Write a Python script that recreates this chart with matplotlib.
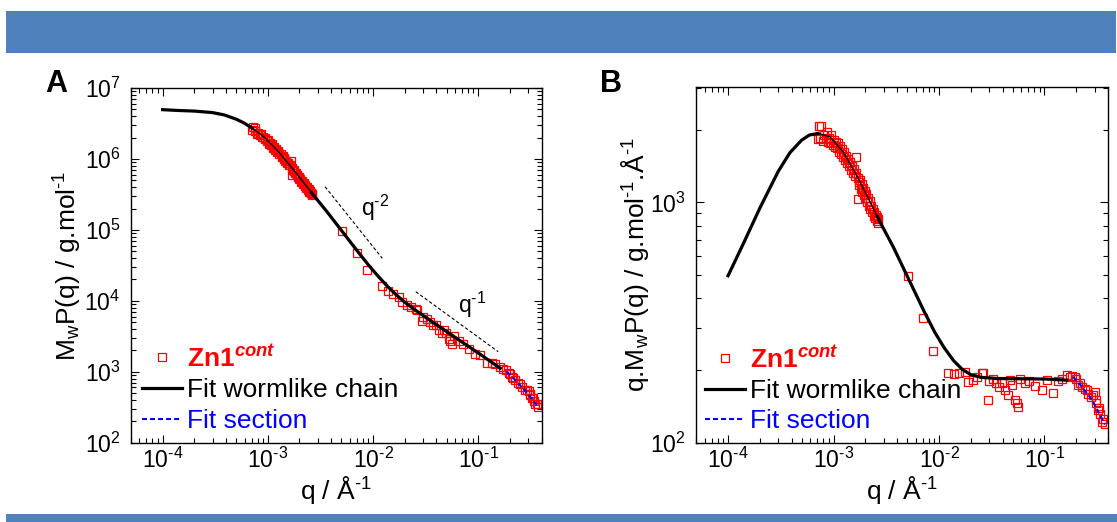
import numpy as np
import matplotlib
matplotlib.use('Agg')
import matplotlib.pyplot as plt
from matplotlib.patches import Rectangle
from matplotlib.ticker import NullFormatter, FuncFormatter

# DATA (y values are q.Mw.P(q), panel A uses Mw.P(q) = value / q)

# wormlike chain fit
fit_q = np.array([1.00e-4, 1.40e-4, 2.01e-4, 2.99e-4, 3.86e-4, 4.99e-4, 5.89e-4, 7.16e-4,
                  9.25e-4, 1.236e-3, 1.782e-3, 2.60e-3, 2.754e-3, 3.68e-3, 5.70e-3, 7.24e-3,
                  9.12e-3, 1.122e-2, 1.380e-2, 1.660e-2, 1.995e-2, 2.512e-2, 3.52e-2, 0.1047,
                  0.162])
fit_qI = np.array([495, 675, 950, 1345, 1610, 1816, 1905, 1936,
                   1875, 1622, 1219, 873, 830, 653, 437, 351,
                   288, 248, 219, 202, 192, 187, 185, 184,
                   182])

# fit section (high q)
sec_q = np.array([0.187, 0.224, 0.282, 0.331, 0.374])
sec_qI = np.array([188, 172, 151, 132, 119])

# Zn1 cont data points
pts_q = np.array([
    7.1e-4, 7.3e-4, 7.6e-4, 7.5e-4, 7.9e-4, 8.1e-4, 8.4e-4, 8.6e-4, 8.8e-4, 9.0e-4,
    9.3e-4, 9.5e-4, 9.8e-4, 1.00e-3, 1.03e-3, 1.05e-3, 1.08e-3, 1.10e-3, 1.13e-3, 1.15e-3,
    1.18e-3, 1.20e-3, 1.23e-3, 1.26e-3, 1.29e-3, 1.32e-3, 1.35e-3, 1.38e-3, 1.41e-3, 1.44e-3,
    1.47e-3, 1.50e-3, 1.53e-3, 1.56e-3, 1.59e-3, 1.62e-3, 1.65e-3, 1.69e-3, 1.71e-3, 1.73e-3,
    1.76e-3, 1.79e-3, 1.82e-3, 1.85e-3, 1.88e-3, 1.91e-3, 1.94e-3, 1.97e-3, 2.00e-3, 2.04e-3,
    2.08e-3, 2.12e-3, 2.16e-3, 2.20e-3, 2.24e-3, 2.28e-3, 2.32e-3, 2.36e-3, 2.40e-3, 2.44e-3,
    2.48e-3, 2.52e-3, 2.56e-3, 2.60e-3, 2.63e-3, 2.65e-3,
    5.10e-3, 7.0e-3, 8.83e-3,
    1.21e-2, 1.39e-2, 1.56e-2, 1.76e-2, 1.89e-2, 2.11e-2, 2.30e-2, 2.54e-2, 2.62e-2, 2.93e-2,
    3.00e-2, 3.27e-2, 3.50e-2, 3.72e-2, 3.93e-2, 4.22e-2, 4.53e-2, 4.71e-2, 4.89e-2, 5.25e-2,
    5.45e-2, 5.65e-2, 5.85e-2, 6.5e-2, 7.2e-2, 8.11e-2, 9.40e-2, 0.1047, 0.121, 0.135,
    0.145, 0.162, 0.174, 0.182, 0.195, 0.200, 0.209, 0.215, 0.225, 0.240,
    0.251, 0.260, 0.279, 0.290, 0.301, 0.310, 0.311, 0.323, 0.330, 0.336,
    0.348, 0.360, 0.374])
pts_qI = np.array([
    1830, 2080, 2070, 1860, 1800, 1900, 1830, 1960, 1780, 1850,
    1760, 1900, 1740, 1820, 1700, 1790, 1680, 1760, 1620, 1720,
    1590, 1660, 1540, 1620, 1500, 1560, 1460, 1510, 1420, 1470,
    1370, 1420, 1330, 1380, 1290, 1330, 1550, 1260, 1030, 1220,
    1180, 1240, 1140, 1190, 1100, 1150, 1070, 1110, 1040, 1080,
    1000, 1040, 970, 1010, 940, 970, 910, 940, 880, 910,
    860, 890, 840, 870, 820, 850,
    494, 331, 241,
    195, 193, 195, 197, 179, 182, 188, 195, 195, 151,
    180, 184, 178, 170, 177, 166, 158, 182, 174, 151,
    146, 141, 184, 178, 180, 172, 166, 182, 161, 181,
    184, 191, 188, 190, 188, 184, 174, 178, 171, 168,
    166, 160, 155, 158, 163, 150, 146, 137, 140, 132,
    122, 126, 120])

# guide slopes in panel A
guide2_q = [0.0035, 0.01226]
guide2_I = [4.06e5, 3.97e4]
guide1_q = [0.0255, 0.155]
guide1_I = [1.345e4, 1918]

legend_labels = [r'$\mathbf{Zn1}^{\mathbfit{cont}}$', 'Fit wormlike chain', 'Fit section']
legend_colors = ['red', 'black', 'blue']


### = = = = = = = = = = = = = = = = = = = = = = = = = = = = = = = = = = = = = =

plt.rcParams.update({
    'font.family': 'Liberation Sans',
    'mathtext.fontset': 'custom',
    'mathtext.rm': 'Liberation Sans',
    'mathtext.it': 'Liberation Sans:italic',
    'mathtext.bf': 'Liberation Sans:bold',
    'mathtext.bfit': 'Liberation Sans:italic:bold',
})


def pow10(v, pos):
    e = int(round(np.log10(v)))
    s = r'\text{-}%d' % -e if e < 0 else '%d' % e
    return r'$\mathdefault{10^{%s}}$' % s


W, H = 1117, 522
fig = plt.figure(figsize=(W / 100, H / 100), dpi=100)
band = '#4F81BD'
fig.add_artist(Rectangle((6 / W, 1 - 53 / H), 1110 / W, 42 / H, transform=fig.transFigure,
                         color=band, lw=0))
fig.add_artist(Rectangle((6 / W, 0), 1111 / W, 8.5 / H, transform=fig.transFigure,
                         color=band, lw=0))

axA = fig.add_axes([131 / W, 1 - 442.7 / H, 410.5 / W, 354.7 / H])
axB = fig.add_axes([696.3 / W, 1 - 442.7 / H, 411.7 / W, 355.7 / H])

in_data = (fit_q >= 7.16e-4) & (fit_q <= 2.60e-3)
thick_lo = fit_q <= 7.16e-4
thick_hi = fit_q >= 2.60e-3

for ax in (axA, axB):
    pdiv = pts_q if ax is axA else 1
    fdiv = fit_q if ax is axA else 1
    sdiv = sec_q if ax is axA else 1
    fy = fit_qI / fdiv
    h_pts, = ax.plot(pts_q, pts_qI / pdiv, 's', mfc='none', mec='red', ms=5.4, mew=0.9)
    h_fit, = ax.plot(fit_q[thick_lo], fy[thick_lo], 'k-', lw=2.3)
    ax.plot(fit_q[thick_hi], fy[thick_hi], 'k-', lw=2.3)
    ax.plot(fit_q[in_data], fy[in_data], 'k-', lw=1.0)
    h_sec, = ax.plot(sec_q, sec_qI / sdiv, color='blue', ls=(0, (2.4, 1.45)), lw=1.5)

    ax.set_xscale('log')
    ax.set_yscale('log')
    ax.set_xlim(5e-5, 0.4)
    ax.tick_params(which='both', direction='in', top=True, right=True, labelsize=16.5,
                   width=0.8)
    ax.tick_params(which='major', length=6)
    ax.tick_params(which='minor', length=3.5)
    ax.tick_params(axis='x', pad=3.5)
    ax.tick_params(axis='y', pad=7.5)
    ax.xaxis.set_major_formatter(FuncFormatter(pow10))
    ax.yaxis.set_major_formatter(FuncFormatter(pow10))
    ax.yaxis.set_minor_formatter(NullFormatter())
    ax.xaxis.set_minor_formatter(NullFormatter())
    for s in ax.spines.values():
        s.set_linewidth(1.0)
    ax.set_xlabel(r'q / Å$^{\text{-}1}$', fontsize=19)
    ax.xaxis.set_label_coords(0.5, -0.088)

    leg = ax.legend([h_pts, h_fit, h_sec], legend_labels, loc='lower left',
                    bbox_to_anchor=(0.026, 0.028) if ax is axA else (0.021, 0.026),
                    frameon=False, fontsize=19, handlelength=1.52, handletextpad=0.19,
                    labelspacing=0.25, borderpad=0, borderaxespad=0, numpoints=1)
    for t, c in zip(leg.get_texts(), legend_colors):
        t.set_color(c)

axA.set_ylim(1e2, 1e7)
axB.set_ylim(1e2, 3020)

axA.plot(guide2_q, guide2_I, color='k', lw=0.8, ls=(0, (3, 2)))
axA.plot(guide1_q, guide1_I, color='k', lw=0.8, ls=(0, (3, 2)))
axA.text(0.560, 0.640, r'q$^{\text{-}2}$', transform=axA.transAxes, fontsize=16.5)
axA.text(0.797, 0.365, r'q$^{\text{-}1}$', transform=axA.transAxes, fontsize=16.5)

axA.set_ylabel(r'M$_{\rm w}$P(q) / g.mol$^{\text{-}1}$', fontsize=19)
axA.yaxis.set_label_coords(-0.1145, 0.5)
axB.set_ylabel(r'q.M$_{\rm w}$P(q) / g.mol$^{\text{-}1}$.Å$^{\text{-}1}$', fontsize=19)
axB.yaxis.set_label_coords(-0.11, 0.5)

fig.text(45 / W, 1 - 92 / H, 'A', fontsize=22, fontweight='bold', va='baseline')
fig.text(600 / W, 1 - 92 / H, 'B', fontsize=22, fontweight='bold', va='baseline')

fig.savefig('out.png', dpi=100)
